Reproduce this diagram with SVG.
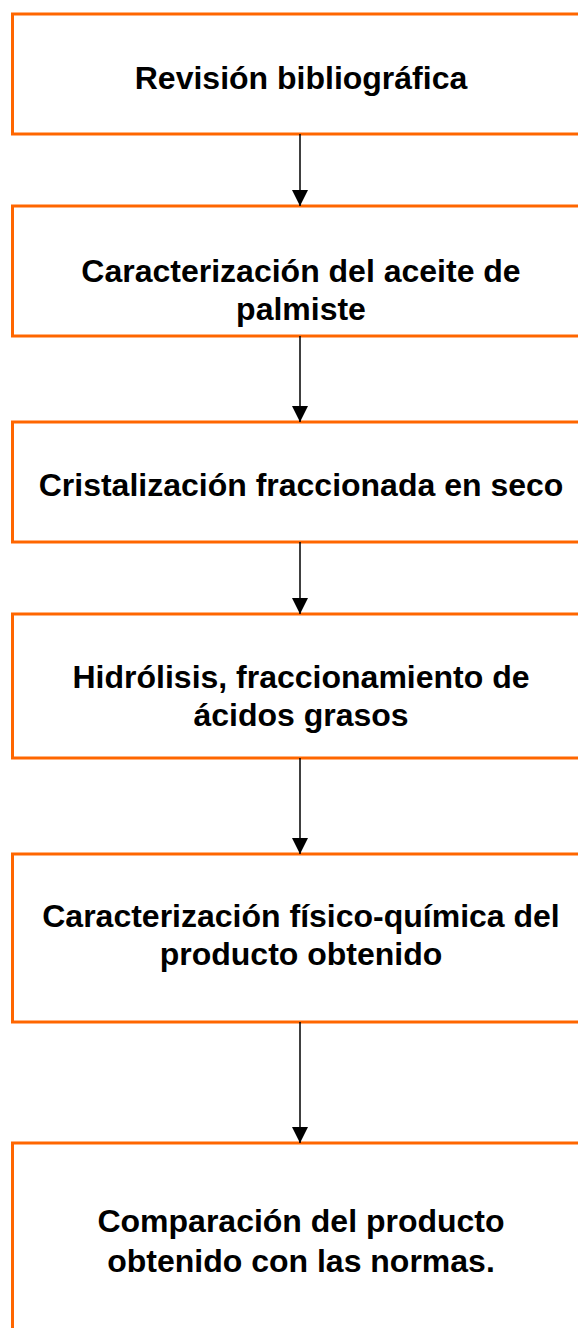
<svg xmlns="http://www.w3.org/2000/svg" width="578" height="1328" viewBox="0 0 578 1328">
<style>
.box{fill:#ffffff;stroke:#ff6600;stroke-width:3}
.t{font-family:"Liberation Sans",Arial,sans-serif;font-weight:bold;font-size:32px;fill:#000;text-anchor:middle}
.c{stroke:#000;stroke-width:1.5;fill:none}
</style>
<defs>
<marker id="ah" markerWidth="16" markerHeight="16" refX="16" refY="8" orient="auto" markerUnits="userSpaceOnUse">
<path d="M0,0 L16,8 L0,16 Z" fill="#000"/>
</marker>
</defs>
<rect width="578" height="1328" fill="#fff"/>
<g id="n1"><rect class="box" x="12.5" y="14" width="580" height="120"/><text class="t" x="301" y="89">Revisión bibliográfica</text></g>
<g id="n2"><rect class="box" x="12.5" y="206" width="580" height="130"/><text class="t" x="301" y="282">Caracterización del aceite de</text><text class="t" x="301" y="320">palmiste</text></g>
<g id="n3"><rect class="box" x="12.5" y="422" width="580" height="120"/><text class="t" x="301" y="496">Cristalización fraccionada en seco</text></g>
<g id="n4"><rect class="box" x="12.5" y="614" width="580" height="144"/><text class="t" x="301" y="688">Hidrólisis, fraccionamiento de</text><text class="t" x="301" y="726">ácidos grasos</text></g>
<g id="n5"><rect class="box" x="12.5" y="854" width="580" height="168"/><text class="t" x="301" y="927">Caracterización físico-química del</text><text class="t" x="301" y="965">producto obtenido</text></g>
<g id="n6"><rect class="box" x="12.5" y="1143" width="580" height="200"/><text class="t" x="301" y="1232">Comparación del producto</text><text class="t" x="301" y="1272">obtenido con las normas.</text></g>
<g id="connectors">
<line class="c" x1="300" y1="134" x2="300" y2="206" marker-end="url(#ah)"/>
<line class="c" x1="300" y1="336" x2="300" y2="422" marker-end="url(#ah)"/>
<line class="c" x1="300" y1="542" x2="300" y2="614" marker-end="url(#ah)"/>
<line class="c" x1="300" y1="758" x2="300" y2="854" marker-end="url(#ah)"/>
<line class="c" x1="300" y1="1022" x2="300" y2="1143" marker-end="url(#ah)"/>
</g>
</svg>
